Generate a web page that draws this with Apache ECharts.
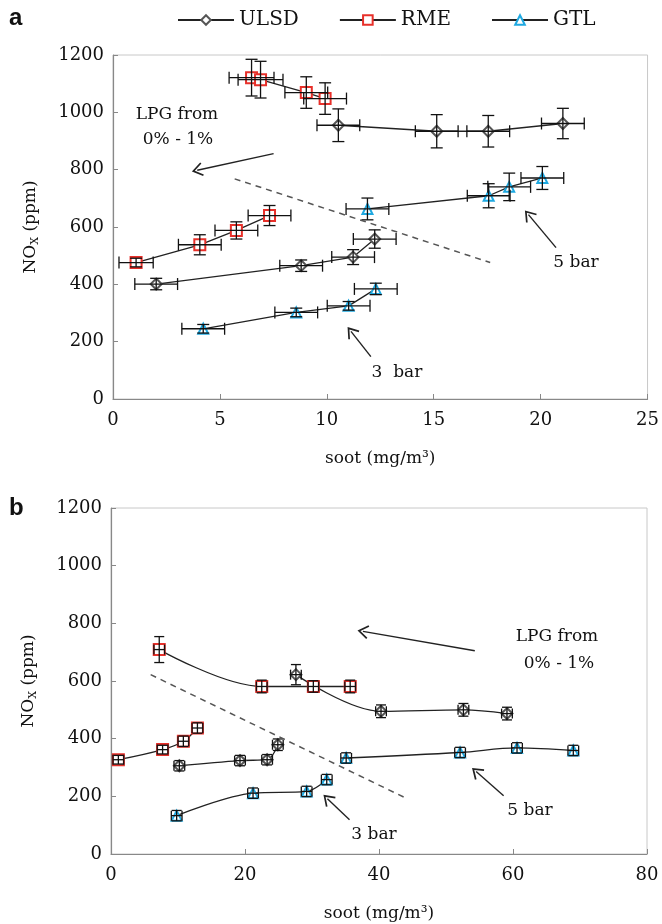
<!DOCTYPE html>
<html>
<head>
<meta charset="utf-8">
<script src="https://cdn.jsdelivr.net/npm/echarts@6/dist/echarts.min.js"></script>
<style>
  html, body { margin: 0; padding: 0; background: #fff; }
  #chart { width: 662px; height: 924px; }
</style>
</head>
<body>
<div id="chart"></div>
<script>
// rows: [soot, NOx, soot error, NOx error]
// panel a
const aULSD5 = [[10.54, 955, 1.0, 57], [15.14, 934, 1.0, 58], [17.55, 934, 1.0, 55], [21.04, 961, 1.0, 53]];
const aULSD3 = [[2.02, 401, 1.0, 20], [8.8, 465, 1.0, 20], [11.23, 495, 1.0, 26], [12.24, 558, 1.0, 32]];
const aRME5 = [[6.48, 1121, 1.05, 64], [6.9, 1114, 1.05, 64], [9.04, 1069, 1.0, 55], [9.92, 1048, 1.0, 55]];
const aRME3 = [[1.08, 476, 0.8, 15], [4.06, 538, 1.0, 35], [5.77, 588, 1.0, 30], [7.32, 640, 1.0, 35]];
const aGTL5 = [[11.9, 663, 1.0, 38], [17.57, 709, 1.0, 42], [18.53, 740, 1.0, 48], [20.08, 771, 1.0, 40]];
const aGTL3 = [[4.22, 245, 1.0, 15], [8.57, 302, 1.0, 15], [11.02, 325, 1.0, 15], [12.29, 384, 1.0, 20]];
// panel b
const bULSD5 = [[27.6, 622, 0.8, 35], [40.3, 495, 0.8, 22], [52.6, 500, 0.8, 22], [59.1, 487, 0.8, 22]];
const bULSD3 = [[10.2, 306, 0.8, 18], [19.25, 324, 0.8, 18], [23.3, 327, 0.8, 18], [24.9, 379, 0.8, 20]];
const bRME5 = [[7.2, 709, 0.8, 45], [22.5, 581, 0.8, 22], [30.2, 581, 0.8, 20], [35.7, 581, 0.8, 22]];
const bRME3 = [[1.1, 327, 0.8, 15], [7.7, 362, 0.8, 15], [10.8, 391, 0.8, 18], [12.9, 437, 0.8, 18]];
const bGTL5 = [[35.1, 333, 0.8, 18], [52.1, 352, 0.8, 18], [60.6, 368, 0.8, 18], [69.0, 359, 0.8, 18]];
const bGTL3 = [[9.8, 133, 0.8, 18], [21.2, 211, 0.8, 18], [29.2, 217, 0.8, 18], [32.2, 258, 0.8, 18]];

const xTicksA = [0, 25, 5];
const xTicksB = [0, 80, 20];
const yTicks = [0, 1200, 200];
const legendNames = ['ULSD', 'RME', 'GTL'];

// annotation lines [[x1, y1], [x2, y2]] in data units
const aArrows = [[[7.51, 856], [3.94, 798]], [[20.72, 528], [19.43, 643]], [[12.06, 148], [11.13, 236]]];
const aDash = [[5.69, 768], [17.64, 476]];
const bArrows = [[[54.3, 705], [37.6, 772]], [[58.6, 202], [54.5, 286]], [[35.6, 119], [32.3, 192]]];
const bDash = [[5.92, 622], [44.0, 194]];

const serif = 'DejaVu Serif';
const look = {
    ULSD: { symbol: 'emptyDiamond', color: '#555', size: 11 },
    RME: { symbol: 'emptyRect', color: '#e8302a', size: 11 },
    GTL: { symbol: 'emptyTriangle', color: '#1fa9e1', size: 10 }
};
const chevron = 'path://M0,0 L7,10 L5.6,11 L0,3 L-5.6,11 L-7,10 Z';

let myChart = echarts.init(document.getElementById('chart'));

function lineSeries(name, rows, panel, smooth) {
    let s = look[name];
    return {
        name: name,
        type: 'line',
        xAxisIndex: panel,
        yAxisIndex: panel,
        data: rows.map(r => [r[0], r[1]]),
        symbol: s.symbol,
        symbolSize: s.size,
        smooth: smooth,
        lineStyle: { color: '#222', width: 1.3 },
        itemStyle: { color: s.color, borderWidth: 2 },
        z: 3,
        animation: false
    };
}

function errSeries(rows, panel, cap) {
    return {
        type: 'custom',
        xAxisIndex: panel,
        yAxisIndex: panel,
        data: rows,
        encode: { x: 0, y: 1 },
        z: 4,
        silent: true,
        animation: false,
        renderItem: function (params, api) {
            let x = api.value(0), y = api.value(1), ex = api.value(2), ey = api.value(3);
            let l = api.coord([x - ex, y]);
            let r = api.coord([x + ex, y]);
            let t = api.coord([x, y + ey]);
            let b = api.coord([x, y - ey]);
            let st = { stroke: '#111', lineWidth: 1.3 };
            let seg = (x1, y1, x2, y2) => ({ type: 'line', shape: { x1: x1, y1: y1, x2: x2, y2: y2 }, style: st });
            return {
                type: 'group',
                children: [
                    seg(l[0], l[1], r[0], r[1]),
                    seg(l[0], l[1] - cap, l[0], l[1] + cap),
                    seg(r[0], r[1] - cap, r[0], r[1] + cap),
                    seg(t[0], t[1], b[0], b[1]),
                    seg(t[0] - cap, t[1], t[0] + cap, t[1]),
                    seg(b[0] - cap, b[1], b[0] + cap, b[1])
                ]
            };
        }
    };
}

function annotations(arrows, dash) {
    let data = arrows.map(a => [{ coord: a[0], symbol: 'none' }, { coord: a[1], symbol: chevron, symbolSize: [14, 11] }]);
    data.push([{ coord: dash[0], symbol: 'none', lineStyle: { type: [6, 5], color: '#555', width: 1.5 } },
               { coord: dash[1], symbol: 'none' }]);
    return {
        silent: true,
        animation: false,
        symbol: ['none', 'none'],
        label: { show: false },
        lineStyle: { color: '#222', width: 1.4, type: 'solid' },
        emphasis: { disabled: true },
        data: data
    };
}

function xAxisOf(panel, ticks) {
    return {
        gridIndex: panel, type: 'value',
        min: ticks[0], max: ticks[1], interval: ticks[2],
        axisLine: { show: true, lineStyle: { color: '#888', width: 1.2 } },
        axisTick: { show: true, inside: true, length: 5, lineStyle: { color: '#888' } },
        splitLine: { show: false },
        axisLabel: { fontFamily: serif, fontSize: 18, color: '#111', margin: 12 },
        name: 'soot (mg/m³)', nameLocation: 'middle', nameGap: 51,
        nameTextStyle: { fontFamily: serif, fontSize: 17, color: '#111' }
    };
}

function yAxisOf(panel) {
    return {
        gridIndex: panel, type: 'value',
        min: yTicks[0], max: yTicks[1], interval: yTicks[2],
        axisLine: { show: true, lineStyle: { color: '#888', width: 1.2 } },
        axisTick: { show: true, inside: true, length: 5, lineStyle: { color: '#888' } },
        splitLine: { show: false },
        axisLabel: { fontFamily: serif, fontSize: 18, color: '#111', margin: 9, formatter: v => String(v) },
        name: 'NO{s|X} (ppm)', nameLocation: 'middle', nameGap: 72, nameRotate: 90,
        nameTextStyle: {
            fontFamily: serif, fontSize: 17, color: '#111',
            rich: { s: { fontFamily: serif, fontSize: 11, color: '#111', padding: [9, 0, 0, 0] } }
        }
    };
}

let series = [];
let sA = lineSeries('ULSD', aULSD5, 0, false);
sA.markLine = annotations(aArrows, aDash);
series.push(sA, lineSeries('ULSD', aULSD3, 0, false),
    lineSeries('RME', aRME5, 0, false), lineSeries('RME', aRME3, 0, false),
    lineSeries('GTL', aGTL5, 0, false), lineSeries('GTL', aGTL3, 0, false));
let sB = lineSeries('ULSD', bULSD5, 1, 0.35);
sB.markLine = annotations(bArrows, bDash);
series.push(sB, lineSeries('ULSD', bULSD3, 1, 0.35),
    lineSeries('RME', bRME5, 1, 0.35), lineSeries('RME', bRME3, 1, 0.35),
    lineSeries('GTL', bGTL5, 1, 0.35), lineSeries('GTL', bGTL3, 1, 0.35));
[aULSD5, aULSD3, aRME5, aRME3, aGTL5, aGTL3].forEach(r => series.push(errSeries(r, 0, 6)));
[bULSD5, bULSD3, bRME5, bRME3, bGTL5, bGTL3].forEach(r => series.push(errSeries(r, 1, 5)));

function label(text, x, y) {
    return {
        type: 'text', x: x, y: y, silent: true,
        style: { text: text, fontFamily: serif, fontSize: 17, fill: '#111', align: 'center', verticalAlign: 'middle' }
    };
}

var option = {
    backgroundColor: '#fff',
    animation: false,
    legend: {
        data: legendNames,
        top: 5,
        left: 172,
        itemWidth: 56,
        itemHeight: 12,
        itemGap: 40,
        textStyle: { fontFamily: serif, fontSize: 20, color: '#111' }
    },
    grid: [
        { left: 113, top: 55, width: 537, height: 344, show: true, borderColor: '#c8c8c8', borderWidth: 1 },
        { left: 111, top: 508, width: 536, height: 346, show: true, borderColor: '#c8c8c8', borderWidth: 1 }
    ],
    xAxis: [xAxisOf(0, xTicksA), xAxisOf(1, xTicksB)],
    yAxis: [yAxisOf(0), yAxisOf(1)],
    series: series,
    graphic: [
        { type: 'text', x: 9, y: 6, silent: true, style: { text: 'a', fontFamily: 'Liberation Sans', fontWeight: 'bold', fontSize: 24, fill: '#111' } },
        { type: 'text', x: 9, y: 496, silent: true, style: { text: 'b', fontFamily: 'Liberation Sans', fontWeight: 'bold', fontSize: 24, fill: '#111' } },
        label('LPG from', 177, 115),
        label('0% - 1%', 178, 140),
        label('5 bar', 576, 263),
        label('3  bar', 397, 373),
        label('LPG from', 557, 637),
        label('0% - 1%', 559, 664),
        label('5 bar', 530, 811),
        label('3 bar', 374, 835)
    ]
};
myChart.setOption(option);
window.addEventListener('resize', function () {
    myChart.resize();
});
</script>
</body>
</html>
